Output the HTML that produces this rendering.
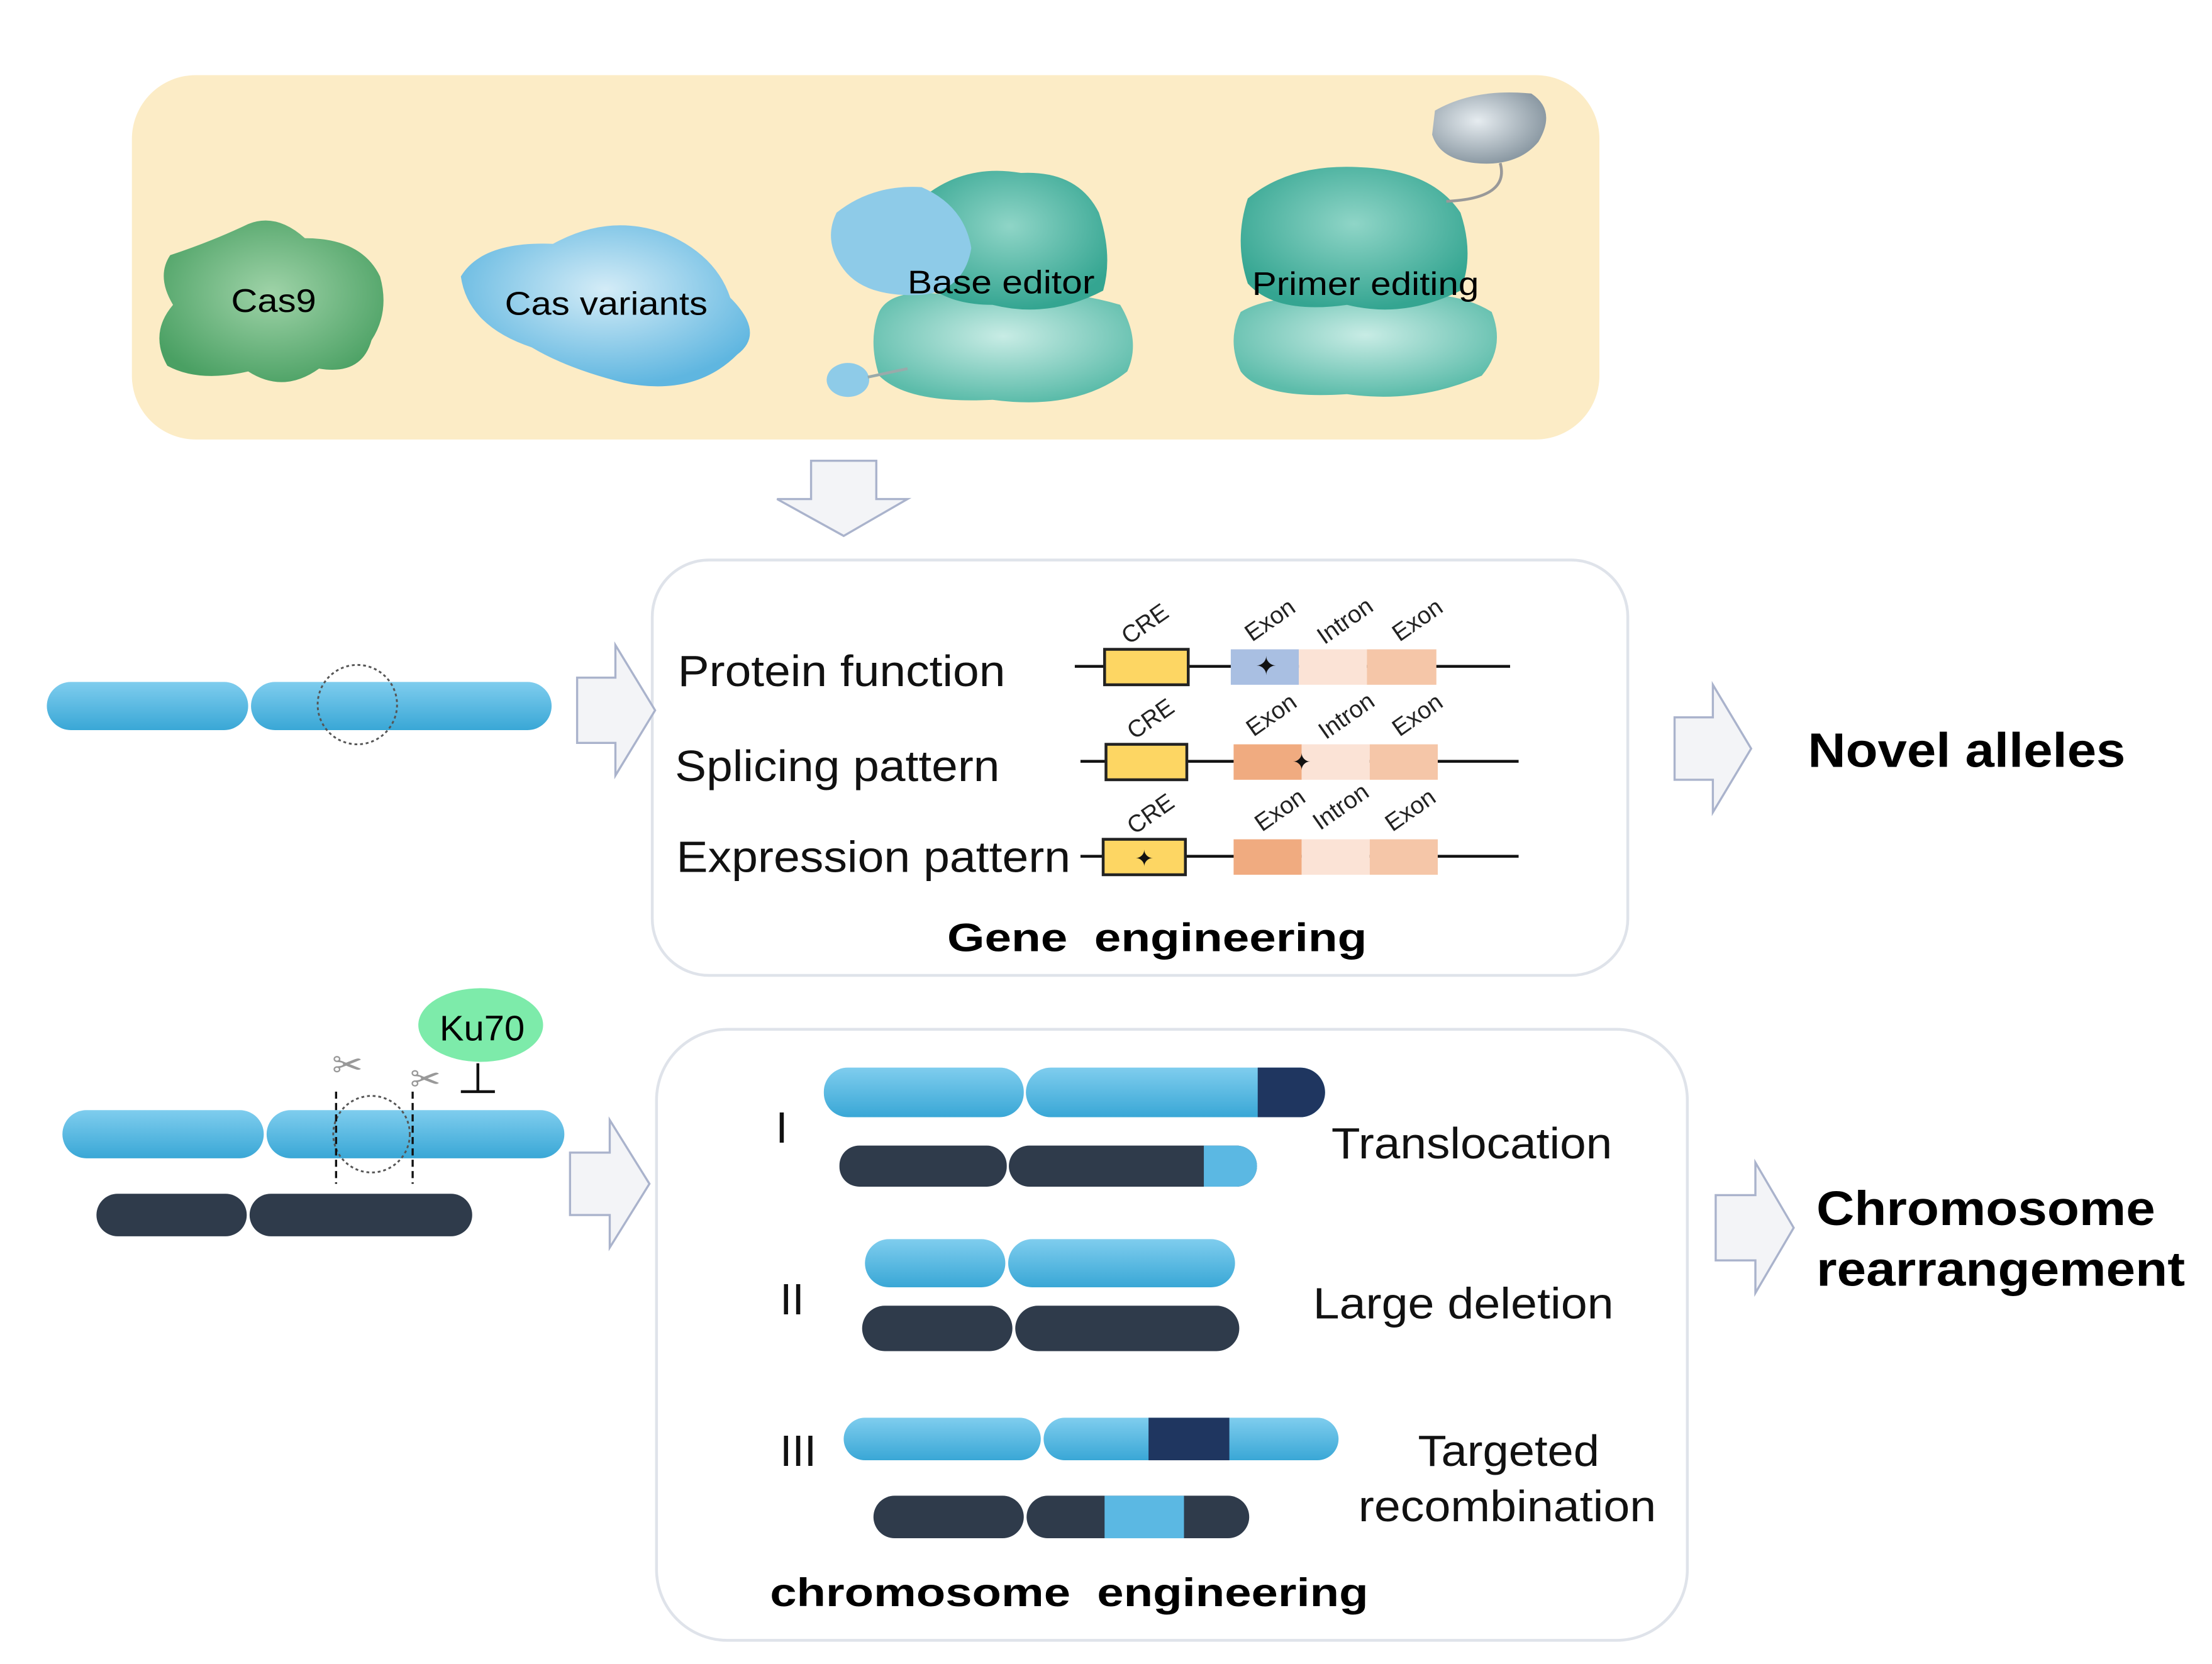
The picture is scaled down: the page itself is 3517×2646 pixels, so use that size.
<!DOCTYPE html>
<html><head><meta charset="utf-8"><style>html,body{margin:0;padding:0;background:#fff}svg{display:block}</style></head>
<body>
<svg width="3517" height="2646" viewBox="0 0 1560 1173.7" xmlns="http://www.w3.org/2000/svg" font-family="Liberation Sans, Arial, sans-serif">
<defs>
<radialGradient id="g1" cx="50%" cy="45%" r="60%"><stop offset="0" stop-color="#9fd3a8"/><stop offset="1" stop-color="#4aa063"/></radialGradient>
<radialGradient id="b1" cx="50%" cy="40%" r="60%"><stop offset="0" stop-color="#d4ecf7"/><stop offset="1" stop-color="#5fb6e0"/></radialGradient>
<radialGradient id="t1" cx="50%" cy="40%" r="60%"><stop offset="0" stop-color="#8fd5c7"/><stop offset="1" stop-color="#34a591"/></radialGradient>
<radialGradient id="t2" cx="50%" cy="40%" r="60%"><stop offset="0" stop-color="#c8ece5"/><stop offset="1" stop-color="#5cbcaa"/></radialGradient>
<radialGradient id="gr" cx="40%" cy="40%" r="60%"><stop offset="0" stop-color="#e6ecf0"/><stop offset="1" stop-color="#8c9aa4"/></radialGradient>
<linearGradient id="bl" x1="0" y1="0" x2="0" y2="1"><stop offset="0" stop-color="#7fcdee"/><stop offset="1" stop-color="#39a7d6"/></linearGradient>
</defs>
<rect x="93" y="53" width="1035" height="257" rx="45" fill="#fcecc6"/>
<path d="M120 180 Q150 170 175 158 Q195 150 215 168 Q255 168 268 195 Q275 220 262 240 Q255 265 225 260 Q200 278 175 262 Q140 270 118 258 Q105 235 122 215 Q110 195 120 180Z" fill="url(#g1)"/>
<text x="163" y="220" font-size="23" textLength="60" lengthAdjust="spacingAndGlyphs">Cas9</text>
<path d="M325 195 Q340 170 390 172 Q430 150 470 165 Q505 180 515 210 Q540 235 520 250 Q490 280 440 270 Q400 260 375 245 Q330 230 325 195Z" fill="url(#b1)"/>
<text x="356" y="222" font-size="23" textLength="143" lengthAdjust="spacingAndGlyphs">Cas variants</text>
<path d="M620 220 Q630 200 680 210 Q740 200 790 215 Q805 240 795 262 Q760 290 700 282 Q640 285 620 265 Q612 240 620 220Z" fill="url(#t2)"/>
<path d="M650 140 Q680 115 720 122 Q760 120 775 150 Q785 180 778 205 Q740 225 700 215 Q660 215 645 190 Q640 160 650 140Z" fill="url(#t1)"/>
<path d="M590 150 Q615 130 650 132 Q680 145 685 175 Q680 205 650 208 Q610 210 595 190 Q580 170 590 150Z" fill="#8ecbe8"/>
<ellipse cx="598" cy="268" rx="15" ry="12" fill="#8ecbe8"/>
<path d="M612 266 L640 260" stroke="#9aa" stroke-width="2"/>
<text x="640" y="207" font-size="23" textLength="132" lengthAdjust="spacingAndGlyphs">Base editor</text>
<path d="M875 220 Q900 205 960 212 Q1020 200 1052 220 Q1062 245 1045 265 Q1000 285 950 278 Q890 282 875 262 Q865 240 875 220Z" fill="url(#t2)"/>
<path d="M880 140 Q910 115 960 118 Q1010 120 1030 150 Q1040 180 1030 205 Q990 225 950 215 Q900 222 880 200 Q870 170 880 140Z" fill="url(#t1)"/>
<path d="M1012 78 Q1040 62 1080 66 Q1098 78 1085 100 Q1070 118 1040 115 Q1015 112 1010 95Z" fill="url(#gr)"/>
<path d="M1058 115 Q1065 140 1020 142" stroke="#999" stroke-width="2" fill="none"/>
<text x="883" y="208" font-size="23" textLength="160" lengthAdjust="spacingAndGlyphs">Primer editing</text>
<path d="M572 325 H618 V352 H640 L595 378 L548 352 H572Z" fill="#f3f4f7" stroke="#aab3cc" stroke-width="1.5"/>
<rect x="460" y="395" width="688" height="293" rx="40" fill="#fff" stroke="#dfe3ea" stroke-width="2"/>
<rect x="33" y="481" width="142" height="34" rx="17" fill="url(#bl)"/>
<rect x="177" y="481" width="212" height="34" rx="17" fill="url(#bl)"/>
<circle cx="252" cy="497" r="28" fill="none" stroke="#555" stroke-width="1.3" stroke-dasharray="2 2"/>
<path d="M407 478 H434 V455 L462 501 L434 547 V524 H407Z" fill="#f3f4f7" stroke="#aab3cc" stroke-width="1.5"/>
<g font-size="31" fill="#111">
<text x="478" y="484" textLength="231" lengthAdjust="spacingAndGlyphs">Protein function</text>
<text x="476" y="551" textLength="229" lengthAdjust="spacingAndGlyphs">Splicing pattern</text>
<text x="477" y="615" textLength="278" lengthAdjust="spacingAndGlyphs">Expression pattern</text>
</g>
<g stroke="#111" stroke-width="2">
<line x1="758" y1="470" x2="1065" y2="470"/><line x1="762" y1="537" x2="1071" y2="537"/><line x1="762" y1="604" x2="1071" y2="604"/>
</g>
<rect x="868" y="458" width="48" height="25" fill="#a9bfe2"/><rect x="916" y="458" width="48" height="25" fill="#fbe3d6"/><rect x="964" y="458" width="49" height="25" fill="#f5c6a8"/>
<rect x="870" y="525" width="48" height="25" fill="#f0ab80"/><rect x="918" y="525" width="48" height="25" fill="#fbe3d6"/><rect x="966" y="525" width="48" height="25" fill="#f5c6a8"/>
<rect x="870" y="592" width="48" height="25" fill="#f0ab80"/><rect x="918" y="592" width="48" height="25" fill="#fbe3d6"/><rect x="966" y="592" width="48" height="25" fill="#f5c6a8"/>
<g fill="#fdd663" stroke="#222" stroke-width="2">
<rect x="779" y="458" width="59" height="25"/><rect x="780" y="525" width="57" height="25"/><rect x="778" y="592" width="58" height="25"/>
</g>
<g fill="#111">
<text x="893" y="476" text-anchor="middle" font-size="18">✦</text>
<text x="918" y="543" text-anchor="middle" font-size="16">✦</text>
<text x="807" y="611" text-anchor="middle" font-size="16">✦</text>
</g>
<g font-size="17" fill="#222">
<text transform="translate(796,455) rotate(-35)">CRE</text>
<text transform="translate(883,453) rotate(-35)">Exon</text>
<text transform="translate(934,455) rotate(-35)">Intron</text>
<text transform="translate(987,453) rotate(-35)">Exon</text>
<text transform="translate(800,522) rotate(-35)">CRE</text>
<text transform="translate(884,520) rotate(-35)">Exon</text>
<text transform="translate(935,522) rotate(-35)">Intron</text>
<text transform="translate(987,520) rotate(-35)">Exon</text>
<text transform="translate(800,589) rotate(-35)">CRE</text>
<text transform="translate(890,587) rotate(-35)">Exon</text>
<text transform="translate(931,586) rotate(-35)">Intron</text>
<text transform="translate(982,587) rotate(-35)">Exon</text>
</g>
<text x="668" y="671" font-size="28" font-weight="bold" xml:space="preserve" textLength="296" lengthAdjust="spacingAndGlyphs">Gene  engineering</text>
<path d="M1181 506 H1208 V483 L1235 528 L1208 573 V550 H1181Z" fill="#f3f4f7" stroke="#aab3cc" stroke-width="1.5"/>
<text x="1275" y="541" font-size="34" font-weight="bold" textLength="224" lengthAdjust="spacingAndGlyphs">Novel alleles</text>
<ellipse cx="339" cy="723" rx="44" ry="26" fill="#7debaa"/>
<text x="310" y="734" font-size="25" textLength="60" lengthAdjust="spacingAndGlyphs">Ku70</text>
<path d="M337 750 V770 M325 770 H349" stroke="#111" stroke-width="2"/>
<rect x="44" y="783" width="142" height="34" rx="17" fill="url(#bl)"/>
<rect x="188" y="783" width="210" height="34" rx="17" fill="url(#bl)"/>
<rect x="68" y="842" width="106" height="30" rx="15" fill="#2f3b4b"/>
<rect x="176" y="842" width="157" height="30" rx="15" fill="#2f3b4b"/>
<circle cx="262" cy="800" r="27" fill="none" stroke="#555" stroke-width="1.3" stroke-dasharray="2 2"/>
<path d="M237 770 V835 M291 770 V835" stroke="#111" stroke-width="1.5" stroke-dasharray="5 3"/>
<text x="245" y="760" font-size="26" fill="#999" text-anchor="middle">✂</text>
<text x="300" y="770" font-size="26" fill="#999" text-anchor="middle">✂</text>
<path d="M402 813 H430 V790 L458 835 L430 880 V857 H402Z" fill="#f3f4f7" stroke="#aab3cc" stroke-width="1.5"/>
<rect x="463" y="726" width="727" height="431" rx="50" fill="#fff" stroke="#dfe3ea" stroke-width="2"/>
<g font-size="31" fill="#111">
<text x="547" y="806">I</text><text x="550" y="927">II</text><text x="550" y="1034">III</text>
<text x="939" y="817" textLength="198" lengthAdjust="spacingAndGlyphs">Translocation</text>
<text x="926" y="930" textLength="212" lengthAdjust="spacingAndGlyphs">Large deletion</text>
<text x="1000" y="1034" textLength="128" lengthAdjust="spacingAndGlyphs">Targeted</text>
<text x="958" y="1073" textLength="210" lengthAdjust="spacingAndGlyphs">recombination</text>
</g>
<rect x="581" y="753" width="141" height="35" rx="17" fill="url(#bl)"/>
<path d="M741 753 H917 A17 17 0 0 1 917 788 H741 A17 17 0 0 1 741 753Z" fill="url(#bl)"/>
<path d="M887 753 H917 A17 17 0 0 1 917 788 H887Z" fill="#1f3660"/>
<rect x="592" y="808" width="118" height="29" rx="14" fill="#2f3b4b"/>
<path d="M726 808 H872 A14 14 0 0 1 872 837 H726 A14 14 0 0 1 726 808Z" fill="#2f3b4b"/>
<path d="M849 808 H872 A14 14 0 0 1 872 837 H849Z" fill="#5bb8e3"/>
<rect x="610" y="874" width="99" height="34" rx="17" fill="url(#bl)"/>
<rect x="711" y="874" width="160" height="34" rx="17" fill="url(#bl)"/>
<rect x="608" y="921" width="106" height="32" rx="16" fill="#2f3b4b"/>
<rect x="716" y="921" width="158" height="32" rx="16" fill="#2f3b4b"/>
<rect x="595" y="1000" width="139" height="30" rx="15" fill="url(#bl)"/>
<rect x="736" y="1000" width="208" height="30" rx="15" fill="url(#bl)"/>
<rect x="810" y="1000" width="57" height="30" fill="#1f3660"/>
<rect x="616" y="1055" width="106" height="30" rx="15" fill="#2f3b4b"/>
<rect x="724" y="1055" width="157" height="30" rx="15" fill="#2f3b4b"/>
<rect x="779" y="1055" width="56" height="30" fill="#5bb8e3"/>
<text x="543" y="1133" font-size="28" font-weight="bold" xml:space="preserve" textLength="422" lengthAdjust="spacingAndGlyphs">chromosome  engineering</text>
<path d="M1210 843 H1238 V820 L1265 866 L1238 912 V889 H1210Z" fill="#f3f4f7" stroke="#aab3cc" stroke-width="1.5"/>
<text x="1281" y="864" font-size="34" font-weight="bold" textLength="239" lengthAdjust="spacingAndGlyphs">Chromosome</text>
<text x="1281" y="907" font-size="34" font-weight="bold" textLength="260" lengthAdjust="spacingAndGlyphs">rearrangement</text>
</svg>
</body></html>
